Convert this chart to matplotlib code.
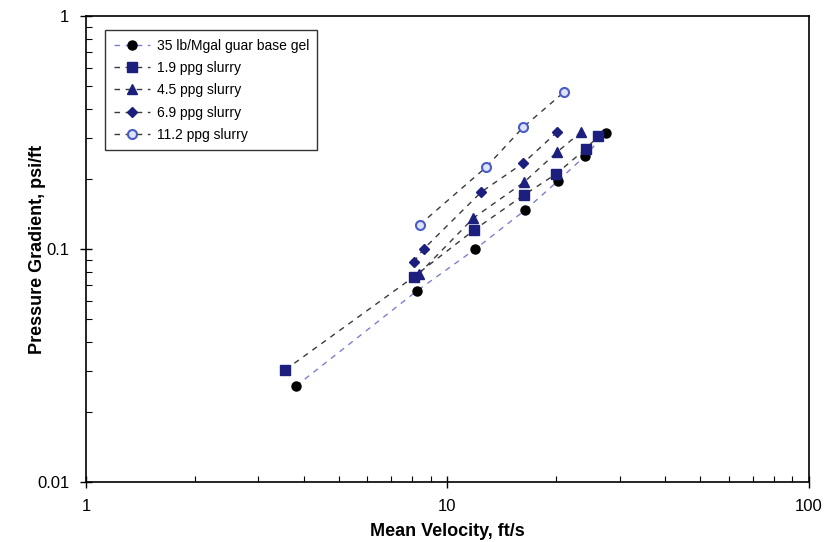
import matplotlib
matplotlib.use("Agg")
from matplotlib import pyplot as plt
from matplotlib.ticker import LogLocator, FixedFormatter, FixedLocator, NullFormatter

plt.rcParams['font.family'] = ['Liberation Sans', 'DejaVu Sans']

# data
gel_v = [3.81, 8.22, 11.94, 16.4, 20.2, 24.0, 27.4]
gel_p = [0.0258, 0.066, 0.100, 0.147, 0.196, 0.251, 0.315]

s19_v = [3.56, 8.06, 11.87, 16.3, 19.96, 24.1, 26.1]
s19_p = [0.0303, 0.0759, 0.121, 0.171, 0.210, 0.269, 0.305]

s45_v = [8.32, 11.80, 16.3, 20.1, 23.4]
s45_p = [0.078, 0.136, 0.194, 0.261, 0.318]

s69_v = [8.06, 8.59, 12.41, 16.2, 20.1]
s69_p = [0.088, 0.100, 0.176, 0.234, 0.318]

s112_v = [8.37, 12.80, 16.2, 21.0]
s112_p = [0.127, 0.225, 0.334, 0.472]

labels = ['35 lb/Mgal guar base gel', '1.9 ppg slurry', '4.5 ppg slurry',
          '6.9 ppg slurry', '11.2 ppg slurry']

navy = '#1c1f7e'
dash_grey = '#3a3a3a'
dash_blue = '#7a80d0'

fig = plt.figure(figsize=(8.3, 5.42), dpi=100)
ax = fig.add_axes([0.1036, 0.111, 0.8711, 0.859])

ax.plot(gel_v, gel_p, ls=(0, (4, 4)), color=dash_blue, lw=1.0,
        marker='o', ms=6.5, mfc='black', mec='black', label=labels[0])
ax.plot(s19_v, s19_p, ls=(0, (4, 4)), color=dash_grey, lw=1.0,
        marker='s', ms=6.5, mfc=navy, mec=navy, label=labels[1])
ax.plot(s45_v, s45_p, ls=(0, (4, 4)), color=dash_grey, lw=1.0,
        marker='^', ms=7, mfc=navy, mec=navy, label=labels[2])
ax.plot(s69_v, s69_p, ls=(0, (4, 4)), color=dash_grey, lw=1.0,
        marker='D', ms=5.5, mfc=navy, mec=navy, label=labels[3])
ax.plot(s112_v, s112_p, ls=(0, (4, 4)), color=dash_grey, lw=1.0,
        marker='o', ms=6.5, mfc='#dfe3f7', mec='#4a5cc8', mew=1.5, label=labels[4])

ax.set_xscale('log')
ax.set_yscale('log')
ax.set_xlim(1, 100)
ax.set_ylim(0.01, 1)

ax.xaxis.set_major_locator(FixedLocator([1, 10, 100]))
ax.xaxis.set_major_formatter(FixedFormatter(['1', '10', '100']))
ax.yaxis.set_major_locator(FixedLocator([0.01, 0.1, 1]))
ax.yaxis.set_major_formatter(FixedFormatter(['0.01', '0.1', '1']))
ax.xaxis.set_minor_locator(LogLocator(base=10, subs=range(2, 10)))
ax.yaxis.set_minor_locator(LogLocator(base=10, subs=range(2, 10)))
ax.xaxis.set_minor_formatter(NullFormatter())
ax.yaxis.set_minor_formatter(NullFormatter())

ax.tick_params(which='major', direction='inout', length=8, width=1, labelsize=12, pad=8)
ax.tick_params(which='minor', direction='in', length=4, width=0.8)

for sp in ax.spines.values():
    sp.set_linewidth(1.2)

ax.set_xlabel('Mean Velocity, ft/s', fontsize=13, fontweight='bold')
ax.set_ylabel('Pressure Gradient, psi/ft', fontsize=13, fontweight='bold')
ax.xaxis.set_label_coords(0.5, -0.088)
ax.yaxis.set_label_coords(-0.055, 0.5)

leg = ax.legend(loc='upper left', bbox_to_anchor=(0.017, 0.985), fontsize=10,
                frameon=True, fancybox=False, edgecolor='black',
                handlelength=2.6, labelspacing=0.6, borderpad=0.6, handletextpad=0.5)
leg.get_frame().set_linewidth(1.0)

fig.savefig('out.png', dpi=100)
